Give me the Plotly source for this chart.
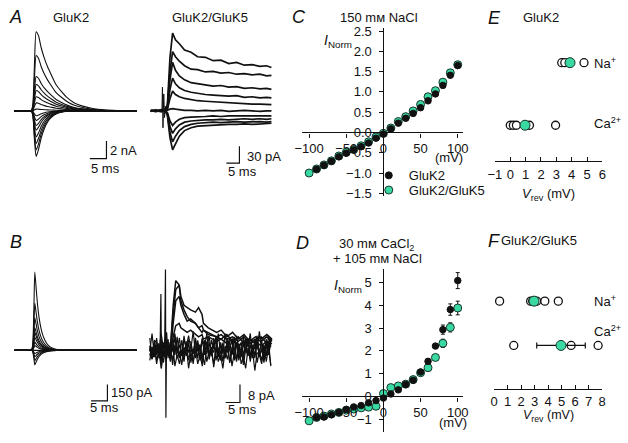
import numpy as np
import plotly.graph_objects as go

W, H = 628, 443
FONT = "Liberation Sans, Arial, Helvetica, sans-serif"
INK = "#111111"
TEAL = "#3bd9a2"
TEAL_EDGE = "#17352b"

# ---------------- DATA ----------------
# A (left) GluK2, 150 mM NaCl : time (ms), normalised waveforms, peak amplitudes (nA)
AL_T = [0, 3, 5.0, 5.5, 6.0, 6.5, 7.2, 8.0, 9.0, 10, 11, 12.5, 14, 16, 18, 20.5, 23.5, 27, 31, 36.8]
AL_SHAPE_OUT = [0, 0, 0, 0.08, 0.6, 1.0, 0.95, 0.8, 0.66, 0.55, 0.46, 0.33, 0.25, 0.16, 0.1, 0.06, 0.03, 0.012, 0.004, 0]
AL_SHAPE_IN = [0, 0, 0, 0.1, 0.65, 1.0, 0.85, 0.6, 0.38, 0.24, 0.15, 0.07, 0.03, 0.01, 0.004, 0, 0, 0, 0, 0]
AL_AMPS_OUT = [9.0, 6.3, 3.9, 3.0, 2.3, 1.6, 0.9, 0.2]
AL_AMPS_IN = [-0.56, -1.1, -1.67, -2.2, -2.97, -3.7, -4.44, -5.19]

# A (right) GluK2/GluK5 : time (ms) and currents (pA)
AR_T = [0, 2, 4, 5.5, 6.4, 7.4, 8.4, 9.5, 11, 13, 15.5, 18, 21, 24, 27, 30, 33, 36, 39, 42, 44.5, 46.4]
AR_TRACES = [
    [0, 1, -1, 2, 10, 95, 138, 126, 119, 108, 104, 96, 95, 89, 90, 84, 86, 81, 82, 79, 80, 77],
    [1, 0, 2, -1, 8, 70, 105, 96, 88, 80, 74, 73, 69, 70, 67, 68, 65, 66, 64, 65, 62, 63],
    [0, -1, 1, 0, 6, 55, 86, 72, 62, 55, 50, 48, 46, 44, 45, 42, 43, 40, 41, 39, 40, 38],
    [-1, 1, 0, 1, 4, 38, 58, 48, 41, 36, 33, 31, 29, 28, 27, 26, 27, 24, 25, 23, 24, 23],
    [0, 0, -1, 1, 3, 22, 35, 29, 25, 22, 20, 18, 17, 16, 15, 14, 14, 13, 12, 12, 11, 11],
    [0, 1, -1, 0, 1, 3, 4, 3, 2, 1, 1, 0, 1, 0, 1, -1, 0, 1, 0, -1, 0, 0],
    [0, -1, 1, 0, -3, -18, -26, -20, -15, -12, -11, -10, -10, -9, -10, -9, -9, -8, -9, -8, -9, -9],
    [0, 1, -1, 0, -5, -28, -40, -32, -25, -20, -18, -17, -16, -16, -15, -16, -15, -14, -15, -14, -15, -14],
    [1, 0, -1, 0, -6, -38, -55, -45, -35, -28, -24, -22, -21, -20, -21, -20, -19, -20, -19, -19, -20, -19],
    [0, -1, 0, 1, -8, -48, -69, -58, -45, -35, -30, -27, -26, -25, -25, -24, -24, -23, -24, -23, -23, -22],
]
AR_ART_T = [4.3, 4.5, 4.7, 5.0, 5.3, 5.6, 6.0]
AR_ART_V = [0, 42, -30, 30, -12, 8, 0]

# B (left) GluK2, 30 mM CaCl2 : time (ms), waveform, amplitudes (pA)
BL_T = [0, 3, 5.0, 5.5, 5.9, 6.2, 6.6, 7.0, 7.5, 8.0, 8.6, 9.3, 10.2, 11.5, 13, 16, 37.4]
BL_SHAPE = [0, 0, 0, 0.05, 0.5, 1.0, 0.8, 0.6, 0.42, 0.3, 0.2, 0.13, 0.07, 0.03, 0.01, 0, 0]
BL_AMPS = [720, 435, 300, 210, 165, 120, 75, 45, 0, -30, -60, -96, -135]

# B (right) GluK2/GluK5 : noisy baseline sweeps (pA, 0.8 ms sampling) and event sweeps
BR_DT = 0.8
BR_NOISE = [2, -3, 4, -2, 1, -5, 3, -1, 5, -4, 2, -2, 6, -3, 0, -5, 4, -1, 3, -6,
            2, 1, -3, 5, -2, 4, -4, 1, -1, 5, -3, 3, -5, 2, -1, 4, -2, 6, -4, 1,
            -3, 3, -1, 5, -5, 2, -2, 4, -3, 1, -4, 5, -2, 3]
BR_BASE_LEVELS = [0, -1.5, 1.5, -3, 2.5, -0.5]
BR_BASE_SHIFTS = [0, 9, 18, 27, 36, 45]
BR_EV_T = [0, 1.5, 3, 4.5, 6, 7.2, 8.2, 9.1, 10.3, 10.9, 12, 13.1, 14.3, 16, 17.1, 18.3, 18.8,
           20.5, 23.4, 25, 27, 29, 31, 33, 35, 37, 39, 41, 42.8]
BR_EVENTS = [
    [1, -3, 2, -2, 3, 0, 20, 31, 29, 24, 20, 19, 18, 17, 19, 16, 12, 10, 8, 9, 6, 8, 5, 7, 4, 6, 5, 7, 5],
    [-2, 2, -1, 3, -2, 1, 16, 27, 29, 22, 18, 15, 13, 12, 10, 11, 9, 8, 6, 7, 5, 6, 4, 6, 3, 5, 4, 6, 4],
    [0, -2, 3, -1, 2, -3, 12, 22, 24, 20, 16, 13, 14, 12, 10, 8, 9, 7, 6, 5, 7, 4, 6, 3, 5, 4, 6, 3, 5],
    [2, -1, 1, -3, 2, -1, 6, 11, 12, 10, 9, 8, 9, 7, 6, 7, 5, 6, 4, 5, 3, 5, 2, 4, 3, 4, 2, 4, 3],
]
BR_ART_T = [3.6, 3.9, 4.1, 4.4, 5.2, 5.5, 5.65, 5.9, 6.3]
BR_ART_V = [0, 25, -8, 3, 0, 36, -30, 8, 0]

# C: I-V, 150 mM NaCl (normalised current)
C_V_K2 = [-90, -80, -70, -60, -50, -40, -30, -20, -10, 0, 10, 20, 30, 40, 50, 60, 70, 80, 90, 100]
C_I_K2 = [-0.91, -0.81, -0.71, -0.6, -0.51, -0.43, -0.35, -0.26, -0.14, -0.04,
          0.09, 0.23, 0.35, 0.47, 0.61, 0.78, 0.95, 1.16, 1.41, 1.65]
C_E_K2 = [0.03] * 17 + [0.04, 0.05, 0.05]
C_V_K25 = [-100, -90, -80, -70, -60, -50, -40, -30, -20, -10, 0, 10, 20, 30, 40, 50, 60, 70, 80, 90, 100]
C_I_K25 = [-1.0, -0.9, -0.8, -0.7, -0.58, -0.49, -0.42, -0.33, -0.23, -0.11, -0.02,
           0.11, 0.27, 0.39, 0.53, 0.69, 0.88, 1.03, 1.24, 1.47, 1.67]
C_E_K25 = [0.03] * 18 + [0.05, 0.06, 0.06]

# D: I-V, 30 mM CaCl2 + 105 mM NaCl
D_V_K2 = C_V_K2
D_I_K2 = [-0.92, -0.9, -0.8, -0.7, -0.57, -0.46, -0.4, -0.28, -0.18, -0.07,
          0.11, 0.29, 0.53, 0.71, 1.07, 1.54, 2.21, 2.93, 3.81, 5.08]
D_E_K2 = [0.04] * 15 + [0.08, 0.1, 0.2, 0.25, 0.35]
D_V_K25 = C_V_K25
D_I_K25 = [-1.07, -0.92, -0.86, -0.77, -0.7, -0.6, -0.55, -0.5, -0.47, -0.43, 0.13,
           0.39, 0.46, 0.54, 0.74, 1.04, 1.26, 1.71, 2.33, 3.03, 3.88]
D_E_K25 = [0.04] * 17 + [0.08, 0.18, 0.2, 0.3]

# E / F: reversal potentials (mV), individual cells and mean
E_NA_CELLS = [3.35, 3.55, 3.85, 4.8]
E_NA_MEAN, E_NA_SEM = 3.89, 0.15
E_CA_CELLS = [0.0, 0.2, 0.4, 1.25, 2.95]
E_CA_MEAN, E_CA_SEM = 0.96, 0.15
F_NA_CELLS = [0.4, 2.7, 2.85, 3.15, 3.75, 4.75]
F_NA_MEAN, F_NA_SEM = 2.95, 0.2
F_CA_CELLS = [1.45, 5.7, 7.7]
F_CA_MEAN, F_CA_SEM = 4.95, 1.8

# ---------------- FIGURE ----------------
fig = go.Figure()
layout = {}
annotations = []
shapes = []
TICKFONT = dict(size=13, family=FONT, color=INK)


def px_x(p):
    return p / W


def px_y(p):
    return 1 - p / H


def akey(n, a):
    return f"{a}axis" if n == 1 else f"{a}axis{n}"


def aref(n, a):
    return a if n == 1 else f"{a}{n}"


def trace_panel(n, box, x0, sx, y0, sy):
    L, R, T, B = box
    layout[akey(n, 'x')] = dict(domain=[px_x(L), px_x(R)], range=[(L - x0) / sx, (R - x0) / sx],
                                visible=False, anchor=aref(n, 'y'))
    layout[akey(n, 'y')] = dict(domain=[px_y(B), px_y(T)], range=[(y0 - B) / sy, (y0 - T) / sy],
                                visible=False, anchor=aref(n, 'x'))


def scale_bar(n, t_end, y_bot, dt, dy):
    shapes.append(dict(type='path', xref=aref(n, 'x'), yref=aref(n, 'y'),
                       path=f"M {t_end - dt},{y_bot} L {t_end},{y_bot} L {t_end},{y_bot + dy}",
                       line=dict(color=INK, width=1.2)))


def ann(x, y, text, size=13, xanchor='center', italic=False):
    if italic:
        text = f"<i>{text}</i>"
    annotations.append(dict(x=px_x(x), y=px_y(y), xref='paper', yref='paper', text=text,
                            showarrow=False, xanchor=xanchor, yanchor='middle',
                            font=dict(size=size, family=FONT, color=INK)))


def line(n, t, v, width=1.1, shape='linear'):
    fig.add_trace(go.Scatter(x=t, y=v, mode='lines', xaxis=aref(n, 'x'), yaxis=aref(n, 'y'),
                             line=dict(color=INK, width=width, shape=shape, smoothing=0.6),
                             showlegend=False, hoverinfo='skip'))


# --- A left
trace_panel(1, (4, 133, 18, 166), 6.7, 3.4, 108.3, 9.0)
for a in AL_AMPS_OUT:
    line(1, AL_T, list(a * np.array(AL_SHAPE_OUT)), 1.1, 'spline')
for a in AL_AMPS_IN:
    line(1, AL_T, list(a * np.array(AL_SHAPE_IN)), 1.1, 'spline')
scale_bar(1, 27.65, -5.44, 5, 2)

# --- A right
trace_panel(2, (143, 273, 18, 166), 146, 2.66, 108.3, 0.5767)
for tr in AR_TRACES:
    line(2, AR_T, tr, 1.7)
line(2, AR_ART_T, AR_ART_V, 1.0)
scale_bar(2, 34.1, -92.6, 5, 30)

# --- B left
trace_panel(3, (4, 133, 262, 412), 6.7, 3.34, 353.3, 0.1113)
for a in BL_AMPS:
    line(3, BL_T, list(a * np.array(BL_SHAPE)), 1.1, 'spline')
scale_bar(3, 28.44, -464.5, 5, 150)

# --- B right
trace_panel(4, (143, 273, 262, 428), 145, 2.92, 353.3, 2.3)
br_t = list(np.arange(len(BR_NOISE)) * BR_DT)
for lev, sh in zip(BR_BASE_LEVELS, BR_BASE_SHIFTS):
    line(4, br_t, list(lev + np.roll(np.array(BR_NOISE, dtype=float), sh)), 1.2)
for ev in BR_EVENTS:
    line(4, BR_EV_T, ev, 1.5)
line(4, BR_ART_T, BR_ART_V, 1.2)
scale_bar(4, 31.6, -23.2, 5, 8)


# --- C and D (I-V)
def iv_panel(n, box, x0, sx, y0, sy, ytickvals, ytickfmt):
    L, R, T, B = box
    common = dict(showline=True, linecolor=INK, linewidth=1.2, ticks='outside', ticklen=4,
                  tickwidth=1.2, tickcolor=INK, showgrid=False, zeroline=False, tickfont=TICKFONT)
    layout[akey(n, 'x')] = dict(domain=[px_x(L), px_x(R)], range=[(L - x0) / sx, (R - x0) / sx],
                                anchor='free', position=px_y(y0), tickvals=[-100, -50, 0, 50, 100],
                                **common)
    layout[akey(n, 'y')] = dict(domain=[px_y(B), px_y(T)], range=[(y0 - B) / sy, (y0 - T) / sy],
                                anchor='free', position=px_x(x0), tickvals=ytickvals,
                                tickformat=ytickfmt, ticklabelstandoff=5, **common)


iv_panel(5, (301, 465, 24, 195), 384, 0.76, 130.4, 41.5, [-1.5, -1, -0.5, 0, 0.5, 1, 1.5, 2, 2.5], '.1f')
iv_panel(6, (301, 465, 270, 437), 384, 0.76, 400.5, 23.33, [-1, 0, 1, 2, 3, 4, 5], 'd')


def iv_series(n, v, i, e, color, edge, size):
    fig.add_trace(go.Scatter(x=v, y=i, mode='markers', xaxis=aref(n, 'x'), yaxis=aref(n, 'y'),
                             error_y=dict(type='data', array=e, color=INK, thickness=1, width=2),
                             marker=dict(color=color, size=size, line=dict(color=edge, width=1)),
                             showlegend=False, hoverinfo='skip', cliponaxis=False))


iv_series(5, C_V_K25, C_I_K25, C_E_K25, TEAL, TEAL_EDGE, 8)
iv_series(5, C_V_K2, C_I_K2, C_E_K2, INK, INK, 6.5)
iv_series(6, D_V_K25, D_I_K25, D_E_K25, TEAL, TEAL_EDGE, 8)
iv_series(6, D_V_K2, D_I_K2, D_E_K2, INK, INK, 6.5)

fig.add_trace(go.Scatter(x=[None], y=[None], mode='markers', name='GluK2', xaxis='x5', yaxis='y5',
                         legend='legend', showlegend=True,
                         marker=dict(color=INK, size=7, line=dict(color=INK, width=1))))
fig.add_trace(go.Scatter(x=[None], y=[None], mode='markers', name='GluK2/GluK5', xaxis='x5', yaxis='y5',
                         legend='legend2', showlegend=True,
                         marker=dict(color=TEAL, size=8, line=dict(color=TEAL_EDGE, width=1))))


# --- E and F (reversal potentials)
def dot_panel(n, box, xr, yr, standoff):
    L, R, T, B = box
    layout[akey(n, 'x')] = dict(domain=[px_x(L), px_x(R)], range=xr, anchor=aref(n, 'y'),
                                showline=True, linecolor=INK, linewidth=1.2, ticks='inside',
                                ticklen=4, tickwidth=1.2, tickcolor=INK, dtick=1, tick0=0,
                                showgrid=False, zeroline=False, ticklabelstandoff=standoff,
                                tickfont=TICKFONT)
    layout[akey(n, 'y')] = dict(domain=[px_y(B), px_y(T)], range=yr, visible=False,
                                type='category', categoryorder='array', categoryarray=['Ca', 'Na'])


def dots(n, cells, mean, sem, row):
    fig.add_trace(go.Scatter(x=cells, y=[row] * len(cells), mode='markers',
                             xaxis=aref(n, 'x'), yaxis=aref(n, 'y'),
                             marker=dict(color='white', size=8, line=dict(color=INK, width=1.3)),
                             showlegend=False, hoverinfo='skip', cliponaxis=False))
    fig.add_trace(go.Scatter(x=[mean], y=[row], mode='markers', xaxis=aref(n, 'x'), yaxis=aref(n, 'y'),
                             error_x=dict(type='data', array=[sem], color=INK, thickness=1.2, width=3),
                             marker=dict(color=TEAL, size=10, line=dict(color=TEAL_EDGE, width=1)),
                             showlegend=False, hoverinfo='skip', cliponaxis=False))


dot_panel(7, (498, 608, 40, 160), [-1, 6], [-0.578, 1.297], 1)
dots(7, E_NA_CELLS, E_NA_MEAN, E_NA_SEM, 'Na')
dots(7, E_CA_CELLS, E_CA_MEAN, E_CA_SEM, 'Ca')
dot_panel(8, (497.3, 607.7, 270, 393), [0, 8], [-0.987, 1.728], 0)
dots(8, F_NA_CELLS, F_NA_MEAN, F_NA_SEM, 'Na')
dots(8, F_CA_CELLS, F_CA_MEAN, F_CA_SEM, 'Ca')

# --- texts
ann(8, 12, 'A', 18, italic=True)
ann(64, 13, 'GluK2')
ann(207, 13, 'GluK2/GluK5')
ann(102, 149, '2 nA', xanchor='left')
ann(83, 167, '5 ms', xanchor='left')
ann(242, 155, '30 pA', xanchor='left')
ann(223, 170, '5 ms', xanchor='left')
ann(8, 242, 'B', 18, italic=True)
ann(103, 396, '150 pA', xanchor='left')
ann(82, 412, '5 ms', xanchor='left')
ann(243, 400, '8 pA', xanchor='left')
ann(223, 414, '5 ms', xanchor='left')

ann(298, 12, 'C', 18, italic=True)
ann(379, 13, '150 mм NaCl')
ann(338, 37, '<i>I</i><sub>Norm</sub>', 14)
ann(451, 156, '(mV)', 13)
ann(301, 244, 'D', 18, italic=True)
ann(377, 245, '30 mм CaCl<sub>2</sub>')
ann(378, 259, '+ 105 mм NaCl')
ann(348, 288, '<i>I</i><sub>Norm</sub>', 14)
ann(455, 427, '(mV)', 13)

ann(498, 13, 'E', 18, italic=True)
ann(545, 13, 'GluK2')
ann(597, 59, 'Na<sup>+</sup>', 13, xanchor='left')
ann(597, 121, 'Ca<sup>2+</sup>', 13, xanchor='left')
ann(553, 194, '<i>V</i><sub>rev</sub> (mV)', 13)
ann(497, 241, 'F', 18, italic=True)
ann(543, 241, 'GluK2/GluK5')
ann(597, 303, 'Na<sup>+</sup>', 13, xanchor='left')
ann(597, 334, 'Ca<sup>2+</sup>', 13, xanchor='left')
ann(553, 420, '<i>V</i><sub>rev</sub> (mV)', 12.5)

LEG = dict(xanchor='left', yanchor='top', bgcolor='rgba(0,0,0,0)',
           font=dict(size=13, family=FONT, color=INK), itemwidth=30, tracegroupgap=0, borderwidth=0)
fig.update_layout(
    width=W, height=H, margin=dict(l=0, r=0, t=0, b=0),
    paper_bgcolor='white', plot_bgcolor='white',
    showlegend=True,
    legend=dict(x=px_x(369), y=px_y(159), **LEG),
    legend2=dict(x=px_x(369), y=px_y(174), **LEG),
    annotations=annotations, shapes=shapes,
    font=dict(family=FONT, color=INK),
    **layout,
)
fig.write_html("out.html", config={'displayModeBar': False},
               post_script="document.body.style.margin='0';document.body.style.overflow='hidden';")
